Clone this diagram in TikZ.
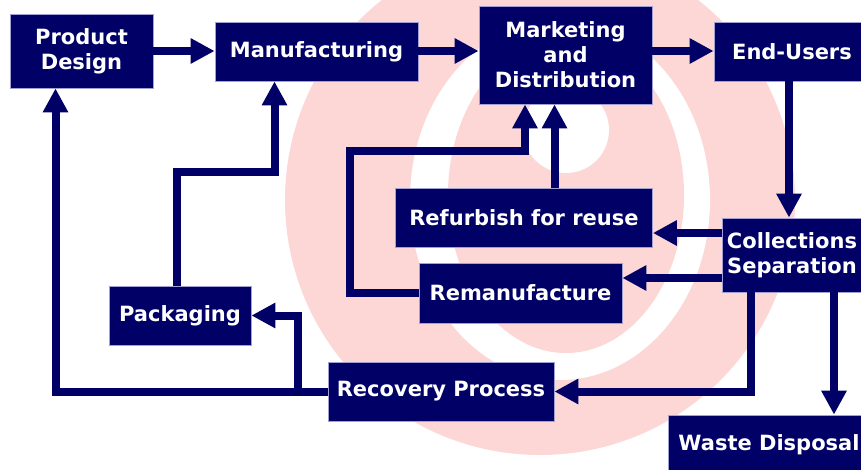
\documentclass[tikz,border=0pt]{standalone}
\usepackage{fontspec}
\setmainfont{DejaVu Sans}
\usetikzlibrary{arrows.meta}
\definecolor{navy}{RGB}{0,0,102}
\definecolor{wmpink}{RGB}{252,215,213}
\definecolor{boxedge}{RGB}{160,160,210}
\begin{document}
\begin{tikzpicture}[x=1pt,y=-1pt,
  box/.style={fill=navy,draw=boxedge,line width=0.8pt,text=white,
    font=\bfseries\fontsize{21}{25}\selectfont,align=center,inner sep=0pt},
  arr/.style={draw=navy,line width=8pt,line join=miter,
    -{Triangle[length=24pt,width=24pt]}},
  ln/.style={draw=navy,line width=8pt,line join=miter}]
\useasboundingbox (0,0) rectangle (861,470);
\clip (0,0) rectangle (861,470);
% watermark swirl
\fill[wmpink] (540,200) circle (255);
\fill[white] (560,200) ellipse [x radius=150, y radius=180];
\fill[wmpink] (566,195) ellipse [x radius=118, y radius=158];
\fill[white] (566,130) circle (43);
% boxes
\node[box,minimum width=143pt,minimum height=74pt] (pd) at (81.5,51) {Product\\Design};
\node[box,minimum width=203pt,minimum height=59pt] (man) at (316.5,51.5) {Manufacturing};
\node[box,minimum width=173pt,minimum height=98pt] (mkt) at (565.5,55) {Marketing\\and\\Distribution};
\node[box,minimum width=156pt,minimum height=59pt] (eu) at (792,51.5) {End-Users};
\node[box,minimum width=140pt,minimum height=74pt] (col) at (792,255) {Collections\\Separation};
\node[box,minimum width=257pt,minimum height=59pt] (ref) at (524,217.5) {Refurbish for reuse};
\node[box,minimum width=203pt,minimum height=60pt] (rem) at (520.5,293) {Remanufacture};
\node[box,minimum width=142pt,minimum height=59pt] (pack) at (180,315.5) {Packaging};
\node[box,minimum width=226pt,minimum height=59pt] (rec) at (441,391.5) {Recovery Process};
\node[box,minimum width=202pt,minimum height=60pt] (waste) at (769,445) {Waste Disposal};
% connectors
\draw[arr] (pd.east |- 0,51) -- (man.west |- 0,51);
\draw[arr] (man.east |- 0,51) -- (mkt.west |- 0,51);
\draw[arr] (mkt.east |- 0,51) -- (eu.west |- 0,51);
\draw[arr] ([xshift=-3pt]eu.south) -- ([xshift=-3pt]col.north);
\draw[arr] (col.west |- 0,233) -- (ref.east |- 0,233);
\draw[arr] (col.west |- 0,278) -- (rem.east |- 0,278);
\draw[arr] (col.south -| 751,0) |- (rec.east);
\draw[arr] (col.south -| 834,0) -- (waste.north -| 834,0);
\draw[arr] (ref.north -| 554.5,0) -- (mkt.south -| 554.5,0);
\draw[arr] (rem.west) -| (350,151) -- (525,151) -- (mkt.south -| 525,0);
\draw[arr] (rec.west) -| ([xshift=-26pt]pd.south);
\coordinate (branch) at (297.5,391.5);
\draw[arr] (branch) |- (pack.east);
\draw[arr] ([xshift=-3.5pt]pack.north) |- (274.5,172.5) -- (man.south -| 274.5,0);
\end{tikzpicture}
\end{document}
